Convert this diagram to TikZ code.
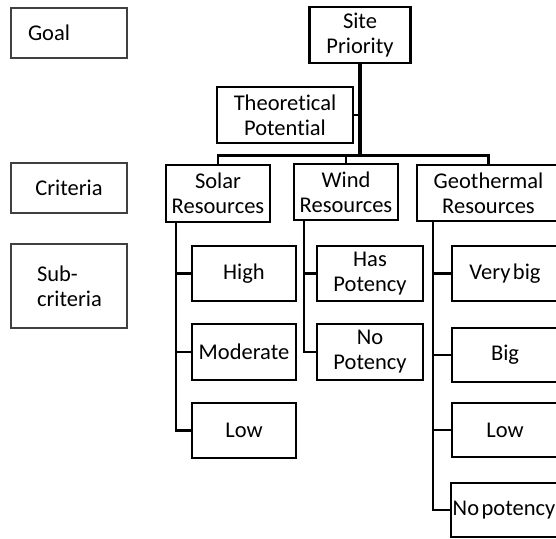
\documentclass[tikz,border=0pt]{standalone}
\usepackage{fontspec}
\setmainfont[Ligatures={NoCommon}]{Carlito}
\usetikzlibrary{positioning}
\newcommand\gap{\hspace{2.5pt}}

\begin{document}
\begin{tikzpicture}[
  x=1pt, y=-1pt,
  every node/.style={font=\fontsize{22.5}{25}\selectfont, inner sep=0pt, align=center},
  level/.style={draw=black!75, line width=1.8pt, minimum width=116pt},
  crit/.style={draw, line width=2.4pt, minimum width=104pt, minimum height=56pt},
  leaf/.style={draw, line width=2.4pt, minimum width=104pt, minimum height=55pt},
  link/.style={line width=2.6pt},
  trunk/.style={line width=3.6pt}
]
  \useasboundingbox (0,0) rectangle (556,538);
  \clip (0,0) rectangle (556,538);

  % Livelli (colonna sinistra)
  \node[level, minimum height=50pt, text width=82pt, align=left] (goal) at (69,33) {Goal};
  \node[level, minimum height=50pt] (crit) at (69,188) {Criteria};
  \node[level, minimum height=84pt, text width=64pt, align=left] (subcrit) at (69,286) {Sub-\\criteria};

  % Obiettivo e criteri
  \node[crit, minimum width=101pt] (site) at (360,35) {Site\\Priority};
  \node[draw, line width=1.8pt, minimum width=136pt, minimum height=56pt] (theo) at (285,115) {Theoretical\\Potential};
  \coordinate[below=91pt of site.south] (hub);

  \node[crit, minimum height=57pt] (solar) at (218,193.5) {Solar\\Resources};
  \node[crit] (wind) at (346,192) {Wind\\Resources};
  \node[crit, minimum width=143pt] (geo) at (488.5,193) {Geothermal\\Resources};

  % Sotto-criteri
  \node[leaf] (high) at (244,273.5) {High};
  \node[leaf, minimum height=56pt] (moderate) at (244,352) {Moderate};
  \node[leaf] (lowsolar) at (244,430.5) {Low};

  \node[leaf, minimum width=106pt] (haspot) at (370,273.5) {Has\\Potency};
  \node[leaf, minimum width=106pt, minimum height=56pt] (nopot) at (370,352) {No\\Potency};

  \node[leaf, minimum width=106pt] (verybig) at (505,273.5) {Very\gap big};
  \node[leaf, minimum width=106pt, minimum height=54pt] (big) at (505,355) {Big};
  \node[leaf, minimum width=106pt, minimum height=54pt] (lowgeo) at (505,430) {Low};
  \node[leaf, minimum width=106pt, minimum height=54pt] (nopotgeo) at (504,510) {No\gap potency};

  % Collegamenti superiori
  \draw[trunk] (site) -- (hub);
  \draw[line width=1.6pt] (theo.east) -- (theo.east -| hub);
  \draw[link] (hub) -| (solar.north);
  \draw[link] (hub) -| (wind.north);
  \draw[link] (hub) -| (geo.north);

  % Collegamenti ai sotto-criteri
  \foreach \child in {high, moderate, lowsolar}
    \draw[link] ([xshift=-42pt]solar.south) |- (\child.west);
  \foreach \child in {haspot, nopot}
    \draw[link] ([xshift=-42pt]wind.south) |- (\child.west);
  \foreach \child in {verybig, big, lowgeo, nopotgeo}
    \draw[link] ([xshift=-55.5pt]geo.south) |- (\child.west);

\end{tikzpicture}
\end{document}
